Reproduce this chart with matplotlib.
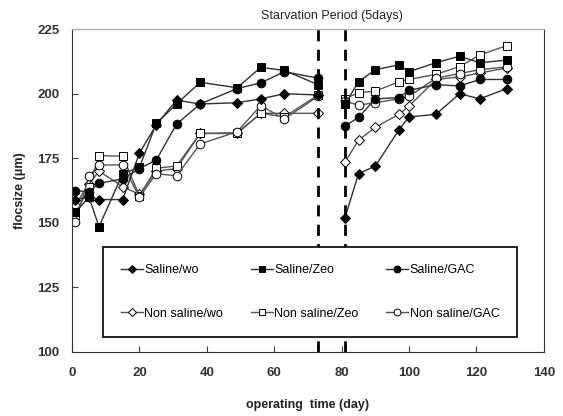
import matplotlib
matplotlib.use("Agg")
import matplotlib.pyplot as plt

plt.rcParams['font.family'] = ['Liberation Sans', 'DejaVu Sans']

days_before = [1, 5, 8, 15, 20, 25, 31, 38, 49, 56, 63, 73]
days_after = [81, 85, 90, 97, 100, 108, 115, 121, 129]

saline_wo_b = [159, 160, 159, 159, 177, 188, 197.5, 196, 196.5, 198, 200, 199.5]
saline_wo_a = [152, 169, 172, 186, 191, 192, 200, 198, 202]
saline_zeo_b = [154, 160, 148.5, 169, 171.5, 188.5, 196, 204.4, 202.3, 210.2, 209, 203.5]
saline_zeo_a = [196, 204.6, 209.3, 211.2, 208.5, 212, 214.5, 212, 213]
saline_gac_b = [162.5, 162, 165.3, 167, 171, 174.3, 188.2, 196, 202, 204.2, 208.5, 206]
saline_gac_a = [187.5, 190.8, 198, 198.5, 201.3, 203.5, 203, 205.5, 205.5]
ns_wo_b = [157, 165, 170, 164, 161, 170, 171, 184.6, 184.6, 192.4, 192.4, 192.4]
ns_wo_a = [173.5, 182, 187, 192, 195.2, 205.5, 206.5, 208, 210]
ns_zeo_b = [153, 164, 176, 175.8, 160.4, 171.1, 172, 184.6, 184.9, 192.4, 191, 199.5]
ns_zeo_a = [198, 200.4, 201, 204.6, 205.5, 207.5, 210.5, 215, 218.6]
ns_gac_b = [150.4, 168, 172.4, 172.4, 160, 169, 168.2, 180.5, 185.3, 195.4, 190.2, 199]
ns_gac_a = [197, 195.6, 196.5, 198, 199, 206, 207.8, 209.3, 210.4]

labels = ["Saline/wo", "Saline/Zeo", "Saline/GAC",
          "Non saline/wo", "Non saline/Zeo", "Non saline/GAC"]
starvation = [73, 81]
xticks = [0, 20, 40, 60, 80, 100, 120, 140]
yticks = [100, 125, 150, 175, 200, 225]

series = [
    (saline_wo_b, saline_wo_a, 'D', 'black', 5.0),
    (saline_zeo_b, saline_zeo_a, 's', 'black', 5.5),
    (saline_gac_b, saline_gac_a, 'o', 'black', 6.2),
    (ns_wo_b, ns_wo_a, 'D', 'white', 5.0),
    (ns_zeo_b, ns_zeo_a, 's', 'white', 5.5),
    (ns_gac_b, ns_gac_a, 'o', 'white', 6.2),
]

fig = plt.figure(figsize=(5.63, 4.16), dpi=100)
ax = fig.add_axes([0.128, 0.154, 0.838, 0.776])

order = [3, 4, 5, 0, 1, 2]
handles = [None] * 6
for i in order:
    b, a, m, fc, ms = series[i]
    lc = '#303030' if fc == 'black' else '#555555'
    h, = ax.plot(days_before, b, marker=m, color=lc, markerfacecolor=fc,
                 markeredgecolor='black', markersize=ms, linewidth=1.0,
                 markeredgewidth=0.7, label=labels[i])
    ax.plot(days_after, a, marker=m, color=lc, markerfacecolor=fc,
            markeredgecolor='black', markersize=ms, linewidth=1.0,
            markeredgewidth=0.7)
    handles[i] = h

for s in starvation:
    ax.axvline(s, color='black', linestyle=(0, (4, 3)), linewidth=2)

ax.set_xlim(0, 140)
ax.set_ylim(100, 225)
ax.set_xticks(xticks)
ax.set_yticks(yticks)
ax.tick_params(direction='in', length=4, width=0.8, colors='#404040', labelsize=9.5)
for lab in ax.get_xticklabels() + ax.get_yticklabels():
    lab.set_fontweight('bold')
    lab.set_color('#333333')
ax.tick_params(axis='x', pad=11)
ax.tick_params(axis='y', pad=9)

for sp in ['left', 'bottom', 'right']:
    ax.spines[sp].set_color('#333333')
ax.spines['top'].set_color('#aaaaaa')

ax.set_xlabel("operating  time (day)", fontsize=9, fontweight='bold', labelpad=14, color='#222222')
ax.set_ylabel("flocsize (μm)", fontsize=9, fontweight='bold', labelpad=8, color='#222222')

leg_order = [0, 3, 1, 4, 2, 5]
leg = ax.legend(handles=[handles[k] for k in leg_order],
                labels=[labels[k] for k in leg_order], ncol=3, loc='lower left',
                bbox_to_anchor=(0.066, 0.046, 0.877, 0.276), mode='expand',
                borderaxespad=0,
                frameon=True, fancybox=False, edgecolor='black', framealpha=1,
                fontsize=9, handlelength=1.8, handletextpad=0.1, borderpad=1.4,
                labelspacing=2.5, columnspacing=1.0, markerscale=0.8)
leg.get_frame().set_linewidth(1.2)

fig.text(332 / 563, 1 - 16 / 416, "Starvation Period (5days)", ha='center',
         va='center', fontsize=9, color='#222222')

fig.savefig("out.png", dpi=100)
